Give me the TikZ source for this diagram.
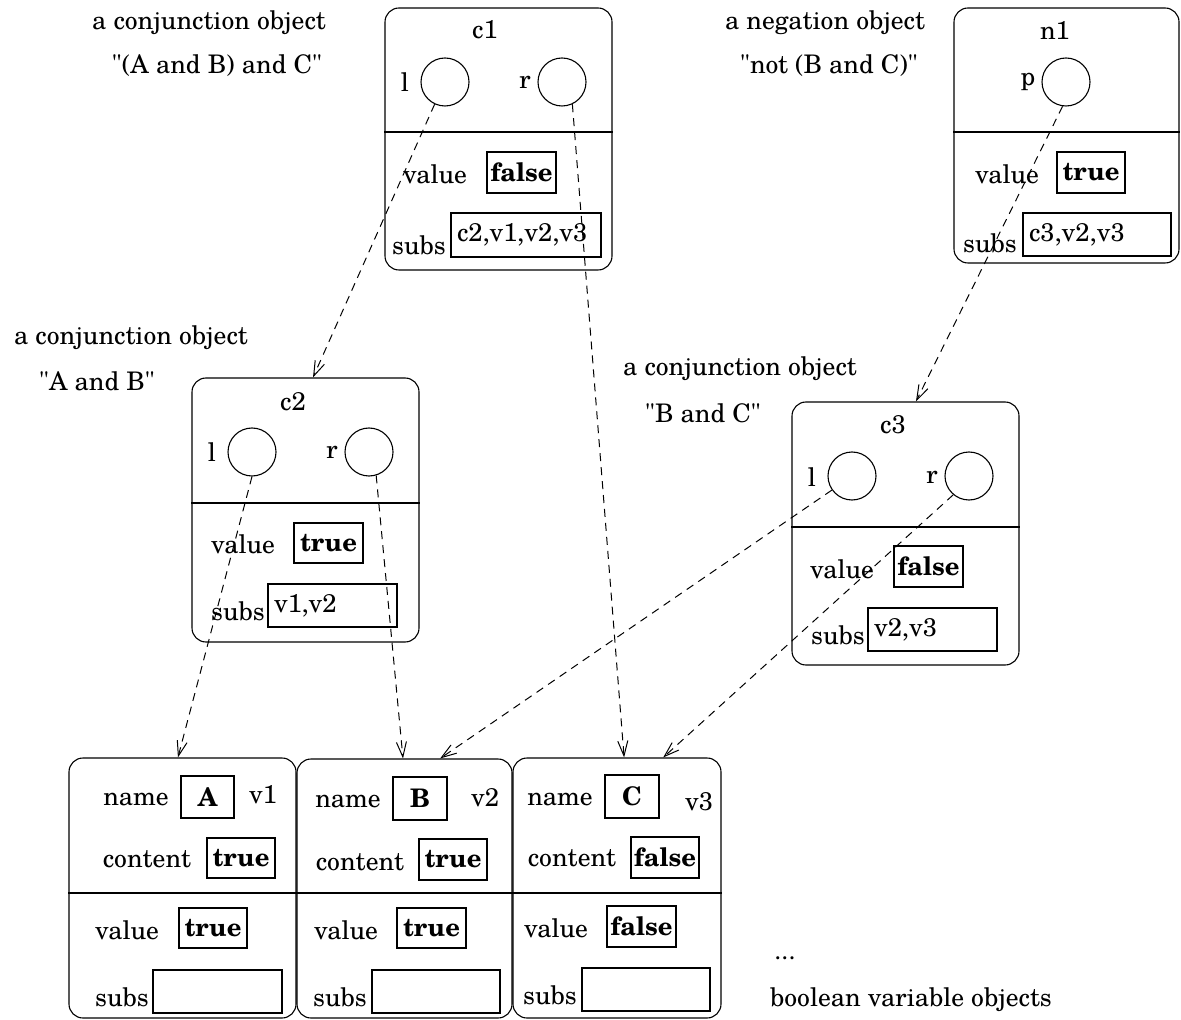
\documentclass[tikz,border=0pt]{standalone}
\usepackage{fontspec}
\setmainfont{texgyreschola-regular.otf}[BoldFont=texgyreschola-bold.otf, Ligatures=TeXOff]
\usetikzlibrary{arrows.meta,calc}
\begin{document}
\begin{tikzpicture}[x=0.5pt,y=-0.5pt,line width=0.55pt,
  every node/.style={font=\fontsize{12.8}{15.4}\selectfont},
  obj/.style={draw, rounded corners=7pt, inner sep=0pt},
  ptr/.style={draw, circle, minimum size=24pt, inner sep=0pt},
  valbox/.style={draw, inner sep=0pt, font=\fontsize{12.8}{15.4}\selectfont\bfseries},
  subsbox/.style={draw, inner sep=0pt},
  subtxt/.style={anchor=west, inner sep=0pt, xshift=3pt},
  txt/.style={inner sep=0pt},
  link/.style={line width=0.5pt, dash pattern=on 4pt off 3pt,
    -{Straight Barb[length=7.5pt,width=5pt]}}]
\useasboundingbox (0,0) rectangle (1181,1020);

% ---------- captions ----------
\node[txt] (cap1a) at (209,23) {a conjunction object};
\node[txt] (cap1b) at (217,66) {"(A and B) and C"};
\node[txt] (cap2a) at (825,23) {a negation object};
\node[txt] (cap2b) at (829,66) {"not (B and C)"};
\node[txt] (cap3a) at (131,338) {a conjunction object};
\node[txt] (cap3b) at (97,381) {"A and B"};
\node[txt] (cap4a) at (740,369) {a conjunction object};
\node[txt] (cap4b) at (703,413) {"B and C"};
\node[txt] (dots) at (785,958) {...};
\node[txt] (capv) at (911,1000) {boolean variable objects};

% ---------- conjunction c1 ----------
\node[obj, minimum width=113.5pt, minimum height=131pt] (c1) at (498.5,139) {};
\draw (c1.west |- 0,132) -- (c1.east |- 0,132);
\node[txt] (c1name) at (485,30) {c1};
\node[txt] (c1lt) at (405,82) {l};
\node[ptr] (c1l) at (445,82) {};
\node[txt] (c1rt) at (525,82) {r};
\node[ptr] (c1r) at (562,82) {};
\node[txt] (c1valt) at (435,174) {value};
\node[valbox, minimum width=34.5pt, minimum height=20.5pt] (c1val) at (521.5,172.5) {false};
\node[txt] (c1subt) at (419,245) {subs};
\node[subsbox, minimum width=75pt, minimum height=22pt] (c1subs) at (526,235) {};
\node[subtxt] (c1subv) at (c1subs.west) {c2,v1,v2,v3};

% ---------- negation n1 ----------
\node[obj, minimum width=112.5pt, minimum height=127.5pt] (n1) at (1066.5,135.5) {};
\draw (n1.west |- 0,132) -- (n1.east |- 0,132);
\node[txt] (n1name) at (1055,30) {n1};
\node[txt] (n1pt) at (1028,82) {p};
\node[ptr] (n1p) at (1066,82) {};
\node[txt] (n1valt) at (1007,174) {value};
\node[valbox, minimum width=34pt, minimum height=20.5pt] (n1val) at (1091,172.5) {true};
\node[txt] (n1subt) at (990,243) {subs};
\node[subsbox, minimum width=74pt, minimum height=21.5pt] (n1subs) at (1097,234.5) {};
\node[subtxt] (n1subv) at (n1subs.west) {c3,v2,v3};

% ---------- conjunction c2 ----------
\node[obj, minimum width=113.5pt, minimum height=132pt] (c2) at (305.5,510) {};
\draw (c2.west |- 0,503) -- (c2.east |- 0,503);
\node[txt] (c2name) at (293,402) {c2};
\node[txt] (c2lt) at (212,452) {l};
\node[ptr] (c2l) at (252,452) {};
\node[txt] (c2rt) at (332,452) {r};
\node[ptr] (c2r) at (369,452) {};
\node[txt] (c2valt) at (243,544) {value};
\node[valbox, minimum width=34.5pt, minimum height=20pt] (c2val) at (328.5,543) {true};
\node[txt] (c2subt) at (238,611) {subs};
\node[subsbox, minimum width=64.5pt, minimum height=21.5pt] (c2subs) at (332.5,605.5) {};
\node[subtxt] (c2subv) at (c2subs.west) {v1,v2};

% ---------- conjunction c3 ----------
\node[obj, minimum width=113.5pt, minimum height=131.5pt] (c3) at (905.5,533.5) {};
\draw (c3.west |- 0,527) -- (c3.east |- 0,527);
\node[txt] (c3name) at (893,425) {c3};
\node[txt] (c3lt) at (812,477) {l};
\node[ptr] (c3l) at (852,476) {};
\node[txt] (c3rt) at (932,477) {r};
\node[ptr] (c3r) at (969,476) {};
\node[txt] (c3valt) at (842,569) {value};
\node[valbox, minimum width=34.5pt, minimum height=20.5pt] (c3val) at (928.5,566.5) {false};
\node[txt] (c3subt) at (838,635) {subs};
\node[subsbox, minimum width=64.5pt, minimum height=21.5pt] (c3subs) at (932.5,629.5) {};
\node[subtxt] (c3subv) at (c3subs.west) {v2,v3};

% ---------- variable v1 ----------
\node[obj, minimum width=113.5pt, minimum height=130pt] (v1) at (182.5,888) {};
\draw (v1.west |- 0,893) -- (v1.east |- 0,893);
\node[txt] (v1namet) at (136,800) {name};
\node[valbox, minimum width=26.5pt, minimum height=21pt] (v1name) at (207.5,797) {A};
\node[txt] (v1id) at (263,795) {v1};
\node[txt] (v1cont) at (147,859) {content};
\node[valbox, minimum width=34pt, minimum height=20pt] (v1con) at (241,858) {true};
\node[txt] (v1valt) at (127,930) {value};
\node[valbox, minimum width=34pt, minimum height=20pt] (v1val) at (213,928) {true};
\node[txt] (v1subt) at (122,997) {subs};
\node[subsbox, minimum width=64.5pt, minimum height=21.5pt] (v1subs) at (217.5,991.5) {};

% ---------- variable v2 ----------
\node[obj, minimum width=107.5pt, minimum height=129.5pt] (v2) at (404.5,888.5) {};
\draw (v2.west |- 0,893) -- (v2.east |- 0,893);
\node[txt] (v2namet) at (348,802) {name};
\node[valbox, minimum width=27pt, minimum height=21.5pt] (v2name) at (420,798.5) {B};
\node[txt] (v2id) at (485,798) {v2};
\node[txt] (v2cont) at (360,862) {content};
\node[valbox, minimum width=34pt, minimum height=20.5pt] (v2con) at (453,859.5) {true};
\node[txt] (v2valt) at (346,930) {value};
\node[valbox, minimum width=34.5pt, minimum height=20pt] (v2val) at (431.5,928) {true};
\node[txt] (v2subt) at (340,997) {subs};
\node[subsbox, minimum width=64pt, minimum height=21.5pt] (v2subs) at (436,991.5) {};

% ---------- variable v3 ----------
\node[obj, minimum width=104pt, minimum height=130pt] (v3) at (617,888) {};
\draw (v3.west |- 0,893) -- (v3.east |- 0,893);
\node[txt] (v3namet) at (560,800) {name};
\node[valbox, minimum width=27pt, minimum height=21.5pt] (v3name) at (632,796.5) {C};
\node[txt] (v3id) at (699,802) {v3};
\node[txt] (v3cont) at (572,858) {content};
\node[valbox, minimum width=34pt, minimum height=20.5pt] (v3con) at (665,857.5) {false};
\node[txt] (v3valt) at (556,928) {value};
\node[valbox, minimum width=34.5pt, minimum height=20.5pt] (v3val) at (641.5,926.5) {false};
\node[txt] (v3subt) at (550,995) {subs};
\node[subsbox, minimum width=64pt, minimum height=21.5pt] (v3subs) at (646,989.5) {};

% ---------- entry points on the object tops ----------
\coordinate (c2in)  at ($(c2.north west)!0.533!(c2.north east)$);
\coordinate (c3in)  at ($(c3.north west)!0.546!(c3.north east)$);
\coordinate (v1in)  at ($(v1.north west)!0.480!(v1.north east)$);
\coordinate (v2inA) at ($(v2.north west)!0.493!(v2.north east)$);
\coordinate (v2inB) at ($(v2.north west)!0.665!(v2.north east)$);
\coordinate (v3inA) at ($(v3.north west)!0.534!(v3.north east)$);
\coordinate (v3inB) at ($(v3.north west)!0.721!(v3.north east)$);

% ---------- references ----------
\draw[link] (c1l.-115) -- (c2in);
\draw[link] (c1r.-65)  -- (v3inA);
\draw[link] (n1p.-98)  -- (c3in);
\draw[link] (c2l.-90)  -- (v1in);
\draw[link] (c2r.-73)  -- (v2inA);
\draw[link] (c3l.-145) -- (v2inB);
\draw[link] (c3r.-130) -- (v3inB);
\end{tikzpicture}
\end{document}
